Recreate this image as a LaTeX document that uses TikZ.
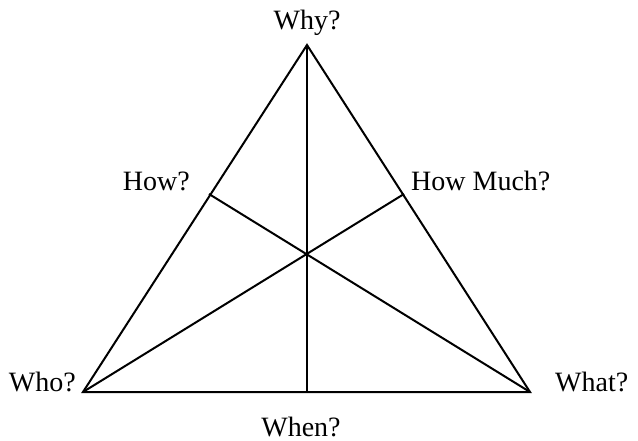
\documentclass[tikz,border=0pt]{standalone}
\usepackage{fontspec}
\setmainfont{Liberation Serif}
\usepackage{tikz}
\usetikzlibrary{positioning}

\begin{document}
\begin{tikzpicture}[
    x=1pt, y=-1pt,
    edge/.style={line width=2pt, color=black},
    qlabel/.style={font=\fontsize{28}{32}\selectfont, inner sep=0pt}
]
\useasboundingbox (0,0) rectangle (638,441);

\coordinate (apex) at (307,45);
\coordinate (wholeft) at (83,392);
\coordinate (whatright) at (530,392);
\coordinate (whenfoot) at (307,392);
\coordinate (hub) at (307,253);
\coordinate (howfoot) at (209,194);
\coordinate (muchfoot) at (404,194);

\draw[edge] (apex) -- (wholeft) -- (whatright) -- cycle;
\draw[edge] (apex) -- (whenfoot);
\draw[edge] (wholeft) -- (muchfoot);
\draw[edge] (whatright) -- (howfoot);

\node[qlabel, anchor=base] (why) at (307,30) {Why?};
\node[qlabel, anchor=base east] (how) at (190,191) {How?};
\node[qlabel, anchor=base west] (howmuch) at (411,191) {How Much?};
\node[qlabel, anchor=base east] (who) at (76,391) {Who?};
\node[qlabel, anchor=base west] (what) at (555,391) {What?};
\node[qlabel, anchor=base] (when) at (301,436) {When?};
\end{tikzpicture}
\end{document}
